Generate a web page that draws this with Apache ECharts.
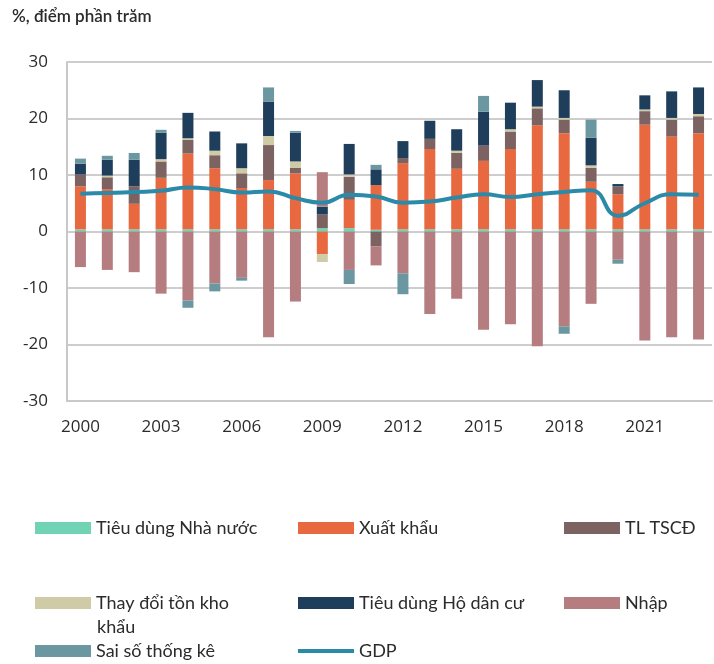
<!DOCTYPE html>
<html>
<head>
<meta charset="utf-8">
<script src="https://cdn.jsdelivr.net/npm/echarts@6/dist/echarts.min.js"></script>
<style>
  html, body { margin: 0; padding: 0; background: #fff; }
  #chart { width: 714px; height: 664px; }
</style>
</head>
<body>
<div id="chart"></div>
<script>
// năm
const years = ['2000','2001','2002','2003','2004','2005','2006','2007','2008','2009','2010','2011',
               '2012','2013','2014','2015','2016','2017','2018','2019','2020','2021','2022','2023'];

// đóng góp vào tăng trưởng (điểm phần trăm)
const tieuDungNhaNuoc = [0.4,0.4,0.4,0.4,0.4,0.4,0.4,0.4,0.4,0.6,0.6,0.3,0.4,0.4,0.4,0.4,0.4,0.4,0.4,0.4,0.4,0.4,0.4,0.4];
const xuatKhau   = [7.6,7.1,4.5,9.1,13.4,10.8,7.3,8.7,9.9,-4.0,5.0,7.9,11.7,14.2,10.7,12.1,14.2,18.4,17.0,8.4,6.2,18.5,16.4,17.0];
const tlTSCD     = [2.1,2.1,3.1,2.9,2.4,2.3,2.6,6.2,1.0,2.4,4.1,-2.6,0.9,1.8,2.8,2.7,3.1,3.0,2.4,2.5,1.4,2.4,3.0,3.0];
const tonKho     = [0,0.3,0,0.4,0.3,0.8,0.9,1.6,1.1,-1.4,0.4,0,0,0,0.4,0,0.4,0.3,0.3,0.4,0,0.3,0.3,0.4];
const tieuDungHDC = [1.9,2.8,4.7,4.7,4.5,3.4,4.4,6.1,5.1,1.4,5.4,2.8,3.0,3.2,3.8,6.0,4.7,4.7,4.9,4.9,0.4,2.5,4.7,4.7];
const nhapKhau   = [-6.3,-6.8,-7.2,-11.0,-12.2,-9.2,-8.2,-18.7,-12.4,6.1,-6.8,-3.4,-7.4,-14.6,-11.9,-17.4,-16.4,-20.3,-16.8,-12.8,-5.0,-19.3,-18.7,-19.1];
const saiSo      = [0.9,0.7,1.2,0.5,-1.3,-1.4,-0.5,2.5,0.3,0,-2.5,0.8,-3.7,0,0,2.8,0,0,-1.3,3.2,-0.7,0,0,0];
const gdp        = [6.7,6.8,7.0,7.2,7.8,7.5,6.9,7.1,5.9,5.1,6.5,6.2,5.1,5.3,6.0,6.6,6.1,6.6,7.0,7.3,2.8,5.0,6.6,6.5];

const FONT = 'Lato';
const TEXT = '#2b2b2b';

var chart = echarts.init(document.getElementById('chart'));

function barSeries(name, data, color) {
    return {
        name: name,
        type: 'bar',
        stack: 'tong',
        barWidth: 11,
        data: data,
        itemStyle: { color: color },
        emphasis: { disabled: true }
    };
}

// một chú thích cho mỗi mục
function legendItem(name, left, top, h) {
    return {
        data: [name],
        left: left,
        top: top,
        padding: 0,
        icon: 'rect',
        itemWidth: 56,
        itemHeight: h || 12,
        itemGap: 0,
        selectedMode: false,
        textStyle: { fontFamily: FONT, fontSize: 18, color: TEXT }
    };
}

var option = {
    backgroundColor: '#fff',
    animation: false,
    textStyle: { fontFamily: FONT },
    grid: { left: 67, right: 2, top: 62, bottom: 263, containLabel: false },
    graphic: [
        { type: 'text', left: 12, top: 8,
          style: { text: '%, điểm phần trăm', font: '600 17px ' + FONT, fill: TEXT } },
        { type: 'text', left: 97, top: 618,
          style: { text: 'khẩu', font: '18px ' + FONT, fill: TEXT } }
    ],
    legend: [
        legendItem('Tiêu dùng Nhà nước', 35, 519),
        legendItem('Xuất khẩu', 298, 519),
        legendItem('TL TSCĐ', 564, 519),
        legendItem('Thay đổi tồn kho', 35, 594),
        legendItem('Tiêu dùng Hộ dân cư', 298, 594),
        legendItem('Nhập', 564, 594),
        legendItem('Sai số thống kê', 35, 642),
        legendItem('GDP', 298, 642, 4)
    ],
    xAxis: {
        type: 'category',
        data: years,
        boundaryGap: true,
        axisLine: { onZero: false, lineStyle: { color: '#c8c8c8', width: 2 } },
        axisTick: { interval: 2, length: 5, lineStyle: { color: '#c8c8c8', width: 2 } },
        axisLabel: { interval: 2, margin: 18, fontFamily: 'Open Sans', fontSize: 17, color: TEXT }
    },
    yAxis: {
        type: 'value',
        min: -30,
        max: 30,
        interval: 10,
        axisLine: { show: true, lineStyle: { color: '#c8c8c8', width: 2 } },
        axisTick: { show: false },
        axisLabel: { margin: 19, fontFamily: 'Open Sans', fontSize: 17, color: TEXT },
        splitLine: { lineStyle: { color: '#cdcdcd', width: 2 } }
    },
    series: [
        barSeries('Tiêu dùng Nhà nước', tieuDungNhaNuoc, '#6fd3b4'),
        barSeries('Xuất khẩu', xuatKhau, '#e8683f'),
        barSeries('TL TSCĐ', tlTSCD, '#7d6262'),
        barSeries('Thay đổi tồn kho', tonKho, '#cfcba6'),
        barSeries('Tiêu dùng Hộ dân cư', tieuDungHDC, '#1f3e5b'),
        barSeries('Nhập', nhapKhau, '#b57d80'),
        barSeries('Sai số thống kê', saiSo, '#6b98a0'),
        {
            name: 'GDP',
            type: 'line',
            data: gdp,
            smooth: true,
            symbol: 'none',
            z: 10,
            lineStyle: { color: '#2b8aa8', width: 4 },
            itemStyle: { color: '#2b8aa8' }
        }
    ]
};

chart.setOption(option);
</script>
</body>
</html>
